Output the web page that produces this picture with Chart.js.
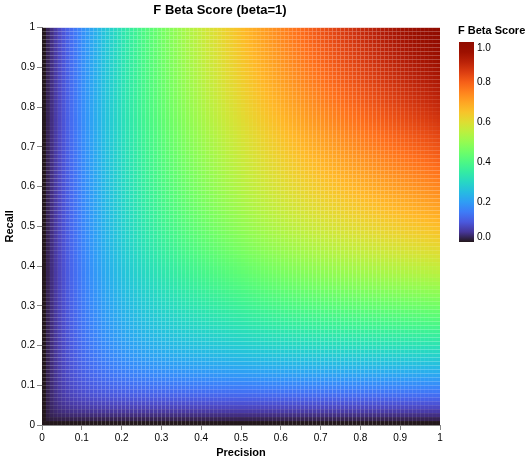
<!DOCTYPE html>
<html lang="en">

<head>
    <meta charset="utf-8">
    <title>F Beta Score (beta=1)</title>
    <script src="https://cdn.jsdelivr.net/npm/chart.js@4.4.1/dist/chart.umd.min.js"></script>
    <style>
        body { margin: 0; background: #fff; }
        #wrap { width: 532px; height: 463px; }
    </style>
</head>

<body>
    <div id="wrap"><canvas id="heat" width="532" height="463"></canvas></div>
    <script>
        // grid of precision / recall values (left edge of each cell)
        const precision = [0, 0.01, 0.02, 0.03, 0.04, 0.05, 0.06, 0.07, 0.08, 0.09,
            0.1, 0.11, 0.12, 0.13, 0.14, 0.15, 0.16, 0.17, 0.18, 0.19,
            0.2, 0.21, 0.22, 0.23, 0.24, 0.25, 0.26, 0.27, 0.28, 0.29,
            0.3, 0.31, 0.32, 0.33, 0.34, 0.35, 0.36, 0.37, 0.38, 0.39,
            0.4, 0.41, 0.42, 0.43, 0.44, 0.45, 0.46, 0.47, 0.48, 0.49,
            0.5, 0.51, 0.52, 0.53, 0.54, 0.55, 0.56, 0.57, 0.58, 0.59,
            0.6, 0.61, 0.62, 0.63, 0.64, 0.65, 0.66, 0.67, 0.68, 0.69,
            0.7, 0.71, 0.72, 0.73, 0.74, 0.75, 0.76, 0.77, 0.78, 0.79,
            0.8, 0.81, 0.82, 0.83, 0.84, 0.85, 0.86, 0.87, 0.88, 0.89,
            0.9, 0.91, 0.92, 0.93, 0.94, 0.95, 0.96, 0.97, 0.98, 0.99];
        const recall = precision.slice();
        const beta = 1;
        const cellSize = 0.01;

        const tickLabels = ['0', '0.1', '0.2', '0.3', '0.4', '0.5', '0.6', '0.7', '0.8', '0.9', '1'];
        const legendLabels = ['0.0', '0.2', '0.4', '0.6', '0.8', '1.0'];
        const legendValues = [0, 0.2, 0.4, 0.6, 0.8, 1];

        // the plotted quantity itself: F-beta score of a precision/recall pair
        const fBeta = (p, r) => {
            const b2 = beta * beta;
            const d = b2 * p + r;
            return d === 0 ? 0 : (1 + b2) * p * r / d;
        };

        // turbo colour map
        const turbo = (t) => {
            t = Math.max(0, Math.min(1, t));
            const r = Math.max(0, Math.min(255, Math.round(34.61 + t * (1172.33 - t * (10793.56 - t * (33300.12 - t * (38394.49 - t * 14825.05)))))));
            const g = Math.max(0, Math.min(255, Math.round(23.31 + t * (557.33 + t * (1225.33 - t * (3574.96 - t * (1073.77 + t * 707.56)))))));
            const b = Math.max(0, Math.min(255, Math.round(27.2 + t * (3211.1 - t * (15327.97 - t * (27814 - t * (22569.18 - t * 6838.66)))))));
            return `rgb(${r},${g},${b})`;
        };

        const FONT = "'Liberation Sans', Arial, Helvetica, sans-serif";

        const heatmapPlugin = {
            id: 'heatmap',
            beforeDatasetsDraw(chart) {
                const { ctx, chartArea, scales } = chart;
                ctx.save();
                ctx.beginPath();
                ctx.rect(chartArea.left, chartArea.top, chartArea.right - chartArea.left, chartArea.bottom - chartArea.top);
                ctx.clip();
                precision.forEach((p) => {
                    const x0 = scales.x.getPixelForValue(p);
                    const x1 = scales.x.getPixelForValue(p + cellSize);
                    recall.forEach((r) => {
                        const y0 = scales.y.getPixelForValue(r + cellSize);
                        const y1 = scales.y.getPixelForValue(r);
                        ctx.fillStyle = turbo(fBeta(p, r));
                        ctx.fillRect(x0, y0, x1 - x0, y1 - y0);
                    });
                });
                ctx.restore();
            }
        };

        const legendPlugin = {
            id: 'colorLegend',
            afterDraw(chart) {
                const ctx = chart.ctx;
                const bx = 459, bw = 15, top = 42, bottom = 242;
                ctx.save();
                ctx.fillStyle = '#000';
                ctx.font = `bold 11px ${FONT}`;
                ctx.textAlign = 'left';
                ctx.textBaseline = 'middle';
                ctx.fillText('F Beta Score', 458, 31);

                const grad = ctx.createLinearGradient(0, bottom, 0, top);
                for (let i = 0; i <= 20; i++) grad.addColorStop(i / 20, turbo(i / 20));
                ctx.fillStyle = grad;
                ctx.fillRect(bx, top, bw, bottom - top);

                ctx.font = `10px ${FONT}`;
                ctx.fillStyle = '#000';
                legendValues.forEach((v, i) => {
                    const y = bottom - v * (bottom - top);
                    ctx.textBaseline = v === 1 ? 'top' : (v === 0 ? 'bottom' : 'middle');
                    ctx.fillText(legendLabels[i], bx + bw + 3, y + (v === 1 ? 1 : 0));
                });
                ctx.restore();
            }
        };

        new Chart(document.getElementById('heat'), {
            type: 'scatter',
            data: { datasets: [{ data: [] }] },
            options: {
                responsive: false,
                animation: false,
                layout: { padding: { left: 0, right: 92, top: 0, bottom: 0 } },
                plugins: {
                    legend: { display: false },
                    tooltip: { enabled: false },
                    title: {
                        display: true,
                        text: 'F Beta Score (beta=1)',
                        color: '#000',
                        font: { family: FONT, size: 13, weight: 'bold' },
                        padding: { top: 3, bottom: 9 }
                    }
                },
                scales: {
                    x: {
                        type: 'linear', min: 0, max: 1,
                        afterFit(s) { s.height = 38; },
                        ticks: {
                            stepSize: 0.1, color: '#000', padding: 2,
                            font: { family: FONT, size: 10 },
                            maxRotation: 0,
                            callback: (v) => tickLabels[Math.round(v * 10)]
                        },
                        grid: { drawOnChartArea: false, drawTicks: true, tickLength: 5, color: '#888' },
                        border: { color: '#888' },
                        title: {
                            display: true, text: 'Precision', color: '#000',
                            font: { family: FONT, size: 11, weight: 'bold' },
                            padding: { top: 2, bottom: 3 }
                        }
                    },
                    y: {
                        type: 'linear', min: 0, max: 1,
                        afterFit(s) { s.width = 42; },
                        ticks: {
                            stepSize: 0.1, color: '#000', padding: 2,
                            font: { family: FONT, size: 10 },
                            callback: (v) => tickLabels[Math.round(v * 10)]
                        },
                        grid: { drawOnChartArea: false, drawTicks: true, tickLength: 5, color: '#888' },
                        border: { color: '#888' },
                        title: {
                            display: true, text: 'Recall', color: '#000',
                            font: { family: FONT, size: 11, weight: 'bold' },
                            padding: { top: 3, bottom: 2 }
                        }
                    }
                }
            },
            plugins: [heatmapPlugin, legendPlugin]
        });
    </script>
</body>

</html>
